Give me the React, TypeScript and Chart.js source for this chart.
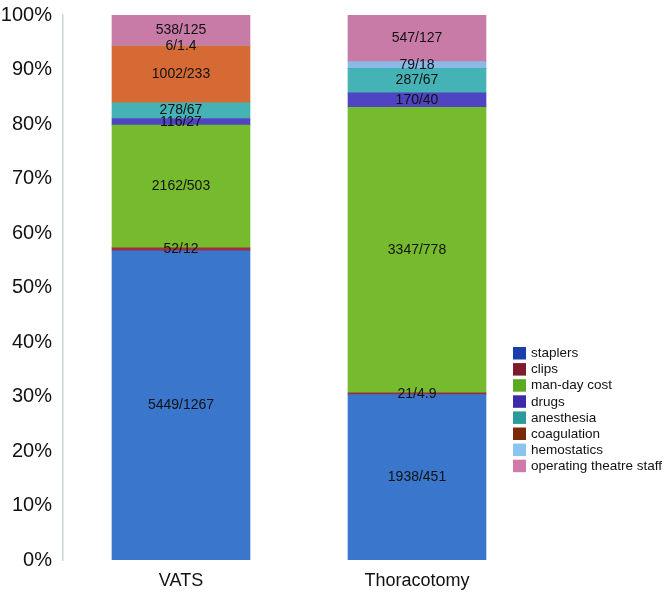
import React, { useEffect, useRef } from "react";
import { Chart, registerables } from "chart.js";

Chart.register(...registerables);

const categories = ["VATS", "Thoracotomy"];
const seriesNames = [
  "staplers",
  "clips",
  "man-day cost",
  "drugs",
  "anesthesia",
  "coagulation",
  "hemostatics",
  "operating theatre staff",
];
const vatsCost = [5449, 52, 2162, 116, 278, 1002, 6, 538];
const vatsCostB = [1267, 12, 503, 27, 67, 233, 1.4, 125];
const thorCost = [1938, 21, 3347, 170, 287, 0, 79, 547];
const thorCostB = [451, 4.9, 778, 40, 67, 0, 18, 127];
const barColors = [
  "#3a77cc",
  "#9b2f3e",
  "#76bb2e",
  "#4f45c2",
  "#45b3b5",
  "#d56a35",
  "#8ab9e8",
  "#c97ba7",
];
const legendColors = [
  "#1b3fa8",
  "#7c1a2e",
  "#5aab1f",
  "#3b2ba8",
  "#2b9a9c",
  "#7a2a0a",
  "#8bc4ee",
  "#d07aab",
];
const yTickSuffix = "%";

const FONT = "'Liberation Sans', Arial, Helvetica, sans-serif";

export default function App() {
  const canvasRef = useRef<HTMLCanvasElement | null>(null);

  useEffect(() => {
    document.body.style.margin = "0";
    document.body.style.overflow = "hidden";
    if (!canvasRef.current) return;
    const vatsTotal = vatsCost.reduce((a, b) => a + b, 0);
    const thorTotal = thorCost.reduce((a, b) => a + b, 0);

    const datasets = seriesNames.map((name, i) => ({
      label: name,
      data: [(vatsCost[i] / vatsTotal) * 100, (thorCost[i] / thorTotal) * 100],
      backgroundColor: barColors[i],
      borderWidth: 0,
      barThickness: 138,
    }));

    const labelPlugin = {
      id: "segLabels",
      afterDatasetsDraw(chart: any) {
        const ctx = chart.ctx;
        ctx.save();
        ctx.font = `14px ${FONT}`;
        ctx.fillStyle = "#111";
        ctx.textAlign = "center";
        ctx.textBaseline = "middle";
        chart.data.datasets.forEach((ds: any, di: number) => {
          const meta = chart.getDatasetMeta(di);
          meta.data.forEach((bar: any, ci: number) => {
            const a = ci === 0 ? vatsCost[di] : thorCost[di];
            const b = ci === 0 ? vatsCostB[di] : thorCostB[di];
            if (!a) return;
            const y = (bar.y + bar.base) / 2;
            ctx.fillText(`${a}/${b}`, bar.x, y);
          });
        });
        ctx.restore();
      },
    };

    const legendPlugin = {
      id: "customLegend",
      afterDraw(chart: any) {
        const ctx = chart.ctx;
        ctx.save();
        const x0 = 513;
        const y0 = 347;
        const step = 16.1;
        ctx.font = `13.5px ${FONT}`;
        ctx.textAlign = "left";
        ctx.textBaseline = "middle";
        seriesNames.forEach((name, i) => {
          const y = y0 + i * step;
          ctx.fillStyle = legendColors[i];
          ctx.fillRect(x0, y, 13, 12.5);
          ctx.fillStyle = "#111";
          ctx.fillText(name, x0 + 18, y + 6.5);
        });
        ctx.restore();
      },
    };

    const chart = new Chart(canvasRef.current, {
      type: "bar",
      data: { labels: categories, datasets },
      options: {
        animation: false,
        responsive: true,
        maintainAspectRatio: false,
        layout: { padding: { top: 15, right: 134, bottom: 0, left: 0 } },
        plugins: {
          legend: { display: false },
          tooltip: { enabled: false },
        },
        scales: {
          x: {
            stacked: true,
            grid: { display: false, drawTicks: false },
            border: { display: false },
            ticks: {
              font: { family: FONT, size: 18 },
              color: "#111",
              padding: 10,
            },
            afterFit: (scale: any) => {
              scale.height = 36;
            },
          },
          y: {
            stacked: true,
            min: 0,
            max: 100,
            grid: { display: false, drawTicks: true, tickLength: 8 },
            border: { display: true, color: "#c8d3da", width: 1.5 },
            ticks: {
              stepSize: 10,
              font: { family: FONT, size: 20 },
              color: "#111",
              padding: 3,
              callback: (v: any) => `${v}${yTickSuffix}`,
            },
            afterFit: (scale: any) => {
              scale.width = 63;
            },
          },
        },
      },
      plugins: [labelPlugin, legendPlugin],
    });

    return () => chart.destroy();
  }, []);

  return (
    <div
      style={{
        position: "relative",
        width: 669,
        height: 596,
        background: "#fff",
      }}
    >
      <canvas ref={canvasRef} />
    </div>
  );
}
